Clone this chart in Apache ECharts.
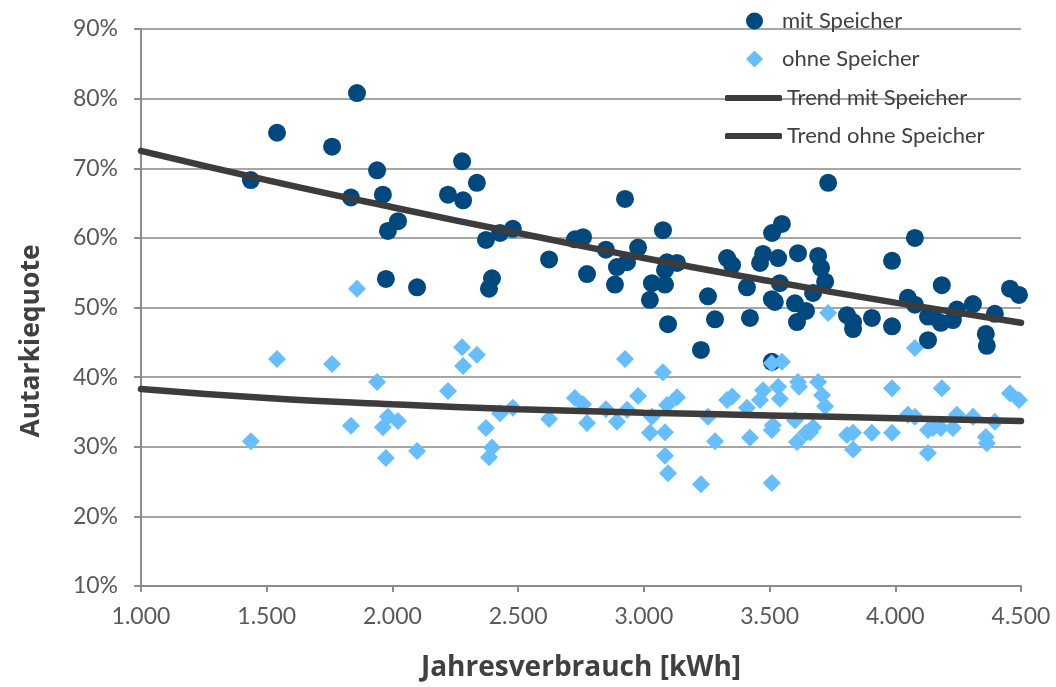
<!DOCTYPE html>
<html>
<head>
<meta charset="utf-8">
<script src="https://cdn.jsdelivr.net/npm/echarts@6/dist/echarts.min.js"></script>
<style>
html,body{margin:0;padding:0;background:#fff;}
#chart{width:1056px;height:687px;}
</style>
</head>
<body>
<div id="chart"></div>
<script>
// ---- data ----
var seriesNames = ['mit Speicher', 'ohne Speicher', 'Trend mit Speicher', 'Trend ohne Speicher'];

var xTicks = [1000, 1500, 2000, 2500, 3000, 3500, 4000, 4500];
var xTickLabels = ['1.000', '1.500', '2.000', '2.500', '3.000', '3.500', '4.000', '4.500'];
var yTicks = [10, 20, 30, 40, 50, 60, 70, 80, 90];
var yTickLabels = ['10%', '20%', '30%', '40%', '50%', '60%', '70%', '80%', '90%'];

var mitX = [1437,1541,1760,1859,1835,1939,1962,1982,2022,1974,2098,2221,2277,2281,2336,2372,2428,2479,2396,2384,
            2623,2726,2758,2774,2849,2885,2893,2925,2933,2977,3024,3032,3076,3084,3084,3092,3132,3096,3227,3255,
            3283,3331,3351,3410,3422,3462,3474,3510,3549,3534,3541,3509,3521,3509,3613,3601,3609,3645,3673,3693,
            3705,3721,3733,3808,3832,3832,3907,3987,3987,4050,4078,4078,4130,4130,4150,4181,4185,4229,4245,4309,
            4360,4364,4396,4456,4492];
var mitY = [68.3,75.1,73.1,80.8,65.8,69.7,66.2,61.0,62.4,54.1,52.9,66.2,71.0,65.4,67.9,59.7,60.7,61.3,54.2,52.7,
            56.9,59.8,60.1,54.8,58.3,53.3,55.8,65.6,56.5,58.6,51.1,53.5,61.1,55.4,53.3,56.5,56.4,47.6,43.9,51.6,
            48.3,57.1,56.1,52.9,48.5,56.4,57.7,60.7,62.0,57.1,53.5,51.2,50.8,42.2,57.8,50.6,47.9,49.5,52.1,57.4,
            55.7,53.7,67.9,48.9,47.9,46.9,48.5,47.3,56.7,51.4,50.4,60.0,48.7,45.3,48.7,47.8,53.2,48.2,49.7,50.5,
            46.2,44.5,49.1,52.7,51.8];

var ohneX = [1437,1541,1760,1835,1859,1939,1962,1974,1982,2022,2098,2221,2277,2281,2336,2372,2384,2396,2428,2479,
             2623,2726,2758,2774,2849,2893,2925,2933,2977,3024,3032,3076,3084,3084,3092,3096,3132,3227,3255,3283,
             3331,3351,3410,3422,3462,3474,3509,3509,3509,3513,3534,3541,3549,3601,3609,3613,3617,3645,3661,3673,
             3693,3709,3721,3733,3808,3832,3832,3907,3987,3987,4050,4078,4078,4130,4130,4150,4181,4185,4229,4245,
             4309,4360,4364,4396,4456,4492];
var ohneY = [30.8,42.6,41.9,33.0,52.7,39.3,32.8,28.4,34.3,33.7,29.4,38.0,44.3,41.6,43.2,32.7,28.5,29.9,34.8,35.6,
             34.0,37.0,36.1,33.4,35.4,33.6,42.6,35.3,37.3,32.0,34.3,40.7,32.1,28.7,36.0,26.2,37.1,24.6,34.3,30.8,
             36.7,37.2,35.6,31.3,36.7,38.1,24.8,32.4,42.0,33.1,38.6,36.9,42.2,33.8,30.7,39.3,38.6,32.0,32.1,32.8,
             39.3,37.4,35.8,49.2,31.7,32.0,29.6,32.0,32.0,38.4,34.6,34.3,44.2,32.4,29.1,32.7,32.7,38.4,32.7,34.6,
             34.3,31.4,30.5,33.6,37.7,36.7];

var trendX = [1000, 1500, 2000, 2500, 3000, 3500, 4000, 4500];
var trendMitY = [72.5, 68.3, 64.4, 60.7, 57.1, 53.8, 50.7, 47.8];
var trendOhneY = [38.3, 37.0, 36.1, 35.4, 34.9, 34.5, 34.1, 33.7];

// ---- build ----
function zip(a, b) { return a.map(function (v, i) { return [v, b[i]]; }); }
var FONT = 'Lato';
var NAMEFONT = 'Open Sans';
var DARK = '#00487e', LIGHT = '#66beff', TREND = '#3c3c3c';
var legendText = {fontFamily: FONT, fontSize: 22, color: '#404040'};
var chart = echarts.init(document.getElementById('chart'), null, {renderer: 'canvas'});
chart.setOption({
  animation: false,
  backgroundColor: '#ffffff',
  textStyle: {fontFamily: FONT},
  grid: {left: 141, right: 35, top: 29, bottom: 101},
  legend: [
    {
      orient: 'vertical',
      left: 741,
      top: 5,
      itemWidth: 17,
      itemHeight: 17,
      itemGap: 16,
      data: [{name: seriesNames[0], icon: 'circle'}, {name: seriesNames[1], icon: 'diamond'}],
      textStyle: Object.assign({padding: [0, 0, 0, 14]}, legendText)
    },
    {
      orient: 'vertical',
      left: 720,
      top: 82,
      itemWidth: 57,
      itemHeight: 6,
      itemGap: 16,
      data: [{name: seriesNames[2], icon: 'roundRect'}, {name: seriesNames[3], icon: 'roundRect'}],
      textStyle: legendText
    }
  ],
  xAxis: {
    type: 'value',
    min: xTicks[0],
    max: xTicks[xTicks.length - 1],
    interval: xTicks[1] - xTicks[0],
    name: 'Jahresverbrauch [kWh]',
    nameLocation: 'middle',
    nameGap: 68,
    nameTextStyle: {fontFamily: NAMEFONT, fontSize: 28, fontWeight: 'bold', color: '#404040'},
    axisLine: {show: true, lineStyle: {color: '#8c8c8c', width: 2}},
    axisTick: {show: true, length: 6, inside: false, lineStyle: {color: '#8c8c8c', width: 2}},
    axisLabel: {
      margin: 19, fontFamily: FONT, fontSize: 23, color: '#595959',
      formatter: function (v) { var i = xTicks.indexOf(v); return i >= 0 ? xTickLabels[i] : ''; }
    },
    splitLine: {show: false}
  },
  yAxis: {
    type: 'value',
    min: yTicks[0],
    max: yTicks[yTicks.length - 1],
    interval: yTicks[1] - yTicks[0],
    name: 'Autarkiequote',
    nameLocation: 'middle',
    nameGap: 96,
    nameRotate: 90,
    nameTextStyle: {fontFamily: NAMEFONT, fontSize: 26.5, fontWeight: 'bold', color: '#404040', padding: [0, 67, 0, 0]},
    axisLine: {show: true, lineStyle: {color: '#8c8c8c', width: 2}},
    axisTick: {show: true, length: 7, inside: false, lineStyle: {color: '#8c8c8c', width: 2}},
    axisLabel: {
      margin: 23, fontFamily: FONT, fontSize: 23, color: '#595959',
      formatter: function (v) { var i = yTicks.indexOf(v); return i >= 0 ? yTickLabels[i] : ''; }
    },
    splitLine: {show: true, lineStyle: {color: '#a6a6a6', width: 2}}
  },
  series: [
    {
      name: seriesNames[0], type: 'scatter', symbol: 'circle', symbolSize: 18, z: 2,
      itemStyle: {color: DARK, opacity: 1},
      emphasis: {disabled: true},
      data: zip(mitX, mitY)
    },
    {
      name: seriesNames[1], type: 'scatter', symbol: 'diamond', symbolSize: 18, z: 3,
      itemStyle: {color: LIGHT, opacity: 1},
      emphasis: {disabled: true},
      data: zip(ohneX, ohneY)
    },
    {
      name: seriesNames[2], type: 'line', smooth: true, symbol: 'none', showSymbol: false, z: 4,
      lineStyle: {color: TREND, width: 6.5, cap: 'round'},
      itemStyle: {color: TREND},
      data: zip(trendX, trendMitY)
    },
    {
      name: seriesNames[3], type: 'line', smooth: true, symbol: 'none', showSymbol: false, z: 4,
      lineStyle: {color: TREND, width: 6.5, cap: 'round'},
      itemStyle: {color: TREND},
      data: zip(trendX, trendOhneY)
    }
  ]
});
</script>
</body>
</html>
